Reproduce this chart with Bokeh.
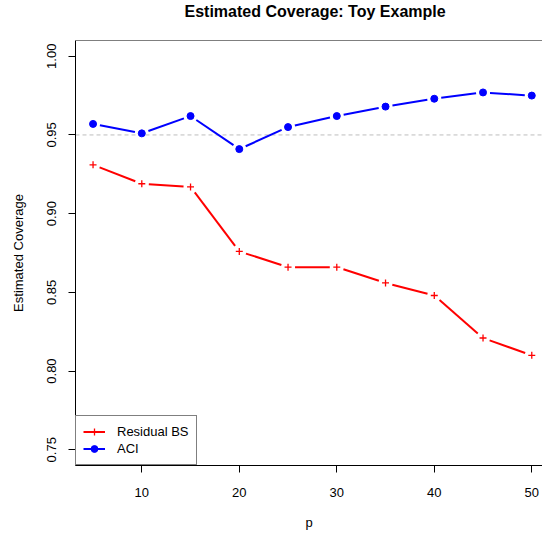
import math
from bokeh.plotting import figure
from bokeh.models import (FixedTicker, PrintfTickFormatter, Span, Title,
                          Legend, LegendItem, Range1d)
from bokeh.embed import file_html
from bokeh.resources import INLINE

# ---- data ----
p_values = [5, 10, 15, 20, 25, 30, 35, 40, 45, 50]
residual_bs = [0.931, 0.919, 0.917, 0.876, 0.866, 0.866, 0.856, 0.848, 0.821, 0.810]
aci = [0.957, 0.951, 0.962, 0.941, 0.955, 0.962, 0.968, 0.973, 0.977, 0.975]
x_ticks = [10, 20, 30, 40, 50]
y_ticks = [0.75, 0.80, 0.85, 0.90, 0.95, 1.00]
nominal = 0.95
title_text = "Estimated Coverage: Toy Example"

FONT = "Liberation Sans"

# ---- layout ----
W, H = 542, 536
BL, BR, BT, BB = 75, 0, 40, 71
FRAME_W, FRAME_H = W - BL - BR, H - BT - BB

x_range = Range1d(3.2, 51.1)
y_range = Range1d(0.74, 1.01)
p = figure(width=W, height=H, output_backend="svg", toolbar_location=None,
           x_range=x_range, y_range=y_range,
           min_border_left=BL, min_border_right=BR, min_border_top=BT,
           min_border_bottom=BB, title=title_text)

p.outline_line_color = None
p.background_fill_color = "white"
p.border_fill_color = "white"
p.xgrid.visible = False
p.ygrid.visible = False

p.title.text_font = FONT
p.title.text_font_size = "16px"
p.title.text_font_style = "bold"
p.title.text_color = "black"
p.title.align = "left"
p.title.offset = 109
p.title.vertical_align = "top"
p.title.standoff = 0

# spacer between the title and the box
p.add_layout(Title(text=" ", text_font_size="1px", standoff=16), "above")

for ax in (p.xaxis[0], p.yaxis[0]):
    ax.axis_line_color = "black"
    ax.major_tick_line_color = "black"
    ax.minor_tick_line_color = None
    ax.major_tick_in = 0
    ax.major_tick_out = 7
    ax.major_label_text_font = FONT
    ax.major_label_text_font_size = "13px"
    ax.major_label_text_color = "black"
    ax.axis_label_text_font = FONT
    ax.axis_label_text_font_size = "13px"
    ax.axis_label_text_font_style = "normal"
    ax.axis_label_text_color = "black"

p.xaxis.ticker = FixedTicker(ticks=x_ticks)
p.xaxis.axis_label = "p"
p.xaxis.major_label_standoff = 15
p.xaxis.axis_label_standoff = 15

p.yaxis.ticker = FixedTicker(ticks=y_ticks)
p.yaxis.formatter = PrintfTickFormatter(format="%.2f")
p.yaxis.major_label_orientation = "vertical"
p.yaxis.axis_label = "Estimated Coverage"
p.yaxis.major_label_standoff = 12
p.yaxis.axis_label_standoff = 19

# top border of the box (at the upper end of the y range)
p.add_layout(Span(location=y_range.end, dimension="width", line_color="black",
                  line_width=1))

# reference line
p.add_layout(Span(location=nominal, dimension="width", line_color="#BEBEBE",
                  line_dash="4 3", line_width=1, level="underlay"))

# lines with gaps around the points (R type = "b")
px_per_x = FRAME_W / (x_range.end - x_range.start)
px_per_y = FRAME_H / (y_range.end - y_range.start)
GAP = 7.0


def gapped(xs, ys, gap=GAP):
    x0, y0, x1, y1 = [], [], [], []
    for i in range(len(xs) - 1):
        dx = (xs[i + 1] - xs[i]) * px_per_x
        dy = (ys[i + 1] - ys[i]) * px_per_y
        length = math.hypot(dx, dy)
        if length <= 2 * gap:
            continue
        ux, uy = dx / length * gap / px_per_x, dy / length * gap / px_per_y
        x0.append(xs[i] + ux)
        y0.append(ys[i] + uy)
        x1.append(xs[i + 1] - ux)
        y1.append(ys[i + 1] - uy)
    return x0, y0, x1, y1


rx0, ry0, rx1, ry1 = gapped(p_values, residual_bs)
ax0, ay0, ax1, ay1 = gapped(p_values, aci)
r_line = p.segment(rx0, ry0, rx1, ry1, line_color="red", line_width=2)
a_line = p.segment(ax0, ay0, ax1, ay1, line_color="blue", line_width=2)

r_pts = p.scatter(p_values, residual_bs, marker="cross", size=7, line_color="red",
                  line_width=1.3)
a_pts = p.scatter(p_values, aci, marker="circle", size=7, fill_color="blue",
                  line_color="blue")

legend = Legend(items=[LegendItem(label="Residual BS", renderers=[r_line, r_pts]),
                       LegendItem(label="ACI", renderers=[a_line, a_pts])],
                location="bottom_left", margin=0, padding=7, spacing=0,
                glyph_width=22, glyph_height=17, label_height=17,
                label_standoff=12, border_line_color="black", border_line_width=1,
                background_fill_color="white", background_fill_alpha=1.0,
                label_text_font=FONT, label_text_font_size="13px",
                label_text_color="black")
p.add_layout(legend, "center")

open("out.html", "w").write(file_html(p, INLINE))
